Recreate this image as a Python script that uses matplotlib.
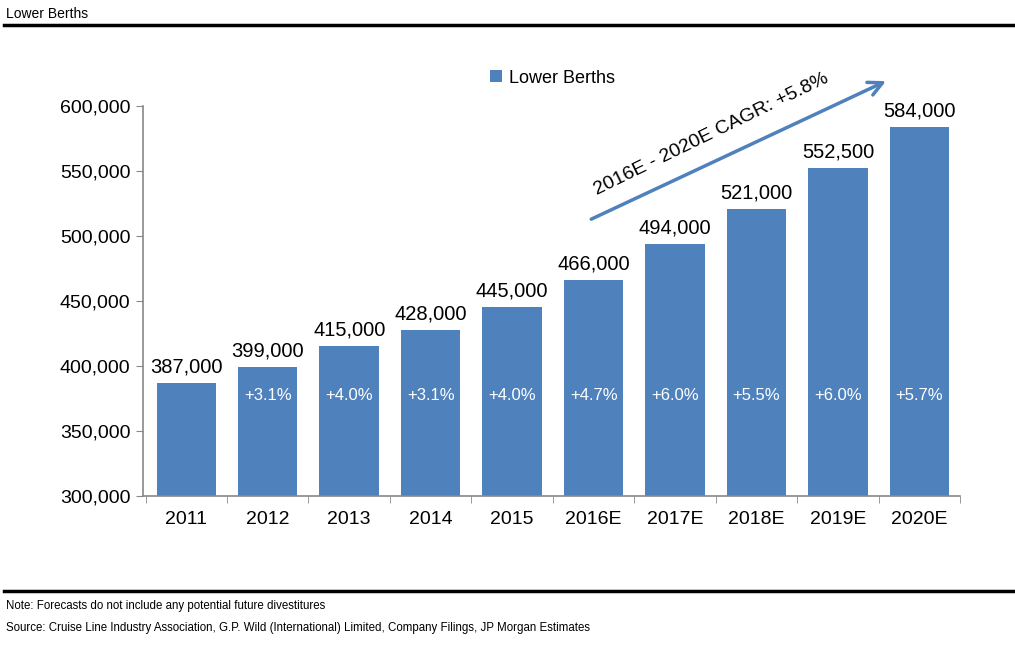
import matplotlib.pyplot as plt
from matplotlib.ticker import FuncFormatter

# Dados
years = ['2011', '2012', '2013', '2014', '2015', '2016E', '2017E', '2018E', '2019E', '2020E']
berths = [387000, 399000, 415000, 428000, 445000, 466000, 494000, 521000, 552500, 584000]
growth = ['', '+3.1%', '+4.0%', '+3.1%', '+4.0%', '+4.7%', '+6.0%', '+5.5%', '+6.0%', '+5.7%']

plt.rcParams['font.family'] = ['Liberation Sans', 'DejaVu Sans']

fig = plt.figure(figsize=(10.15, 6.5), dpi=100)
ax = fig.add_axes([0.141, 0.237, 0.805, 0.6])

x = range(len(years))
bars = ax.bar(x, berths, width=0.73, color='#4F81BD', label='Lower Berths', zorder=2)

for i, v in enumerate(berths):
    ax.text(i, v + 5000, f'{v:,}', ha='center', va='bottom', fontsize=14.5)
    if growth[i]:
        ax.text(i, 377000, growth[i], ha='center', va='center', fontsize=12, color='white')

ax.set_ylim(300000, 600000)
ax.set_xlim(-0.53, 9.47)
ax.set_yticks(range(300000, 600001, 50000))
ax.yaxis.set_major_formatter(FuncFormatter(lambda v, p: f'{int(v):,}'))
ax.set_xticks(list(x))
ax.set_xticklabels(years)
ax.set_xticks([i + 0.5 for i in range(-1, len(years))], minor=True)
ax.tick_params(axis='x', which='major', length=0, labelsize=14, pad=11)
ax.tick_params(axis='x', which='minor', length=5, color='#888888', direction='out')
ax.tick_params(axis='y', length=5, color='#888888', labelsize=14, pad=4)

for s in ['top', 'right']:
    ax.spines[s].set_visible(False)
for s in ['left', 'bottom']:
    ax.spines[s].set_color('#888888')
    ax.spines[s].set_linewidth(1.2)

ax.legend(loc='upper left', bbox_to_anchor=(0.405, 1.135), frameon=False, fontsize=13,
          handlelength=0.65, handleheight=0.65, handletextpad=0.4)

# Seta CAGR
ax.annotate('', xy=(8.62, 620000), xytext=(4.94, 512000),
            arrowprops=dict(arrowstyle='->', color='#4F81BD', lw=2.5, mutation_scale=25),
            annotation_clip=False)
ax.text(6.45, 578000, '2016E - 2020E CAGR: +5.8%', rotation=26, ha='center', va='center',
        fontsize=14, rotation_mode='anchor')

# Cabeçalho e rodapé
fig.text(0.006, 0.978, 'Lower Berths', fontsize=10, va='center')
fig.add_artist(plt.Line2D([0.004, 1.0], [0.961, 0.961], color='black', lw=2.5))
fig.add_artist(plt.Line2D([0.004, 1.0], [0.091, 0.091], color='black', lw=2.5))
fig.text(0.006, 0.068, 'Note: Forecasts do not include any potential future divestitures', fontsize=8.3, va='center')
fig.text(0.006, 0.034, 'Source: Cruise Line Industry Association, G.P. Wild (International) Limited, Company Filings, JP Morgan Estimates',
         fontsize=8.3, va='center')

fig.savefig('out.png', dpi=100)
